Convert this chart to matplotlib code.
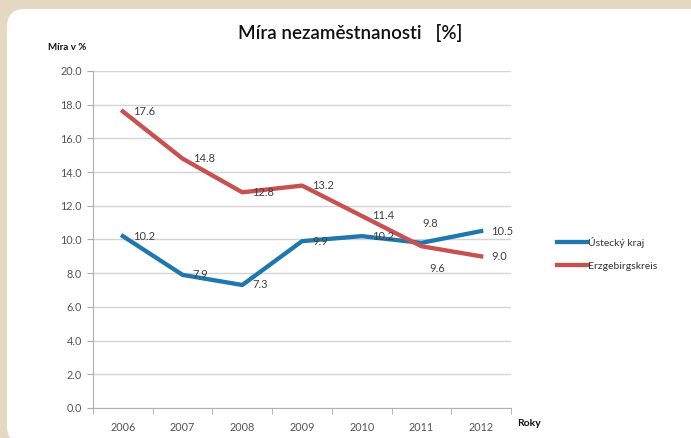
import numpy as np
import matplotlib
matplotlib.use("Agg")
import matplotlib.pyplot as plt
from matplotlib.patches import FancyBboxPatch
from matplotlib.transforms import IdentityTransform

# data
years = ["2006", "2007", "2008", "2009", "2010", "2011", "2012"]
ustecky = [10.2, 7.9, 7.3, 9.9, 10.2, 9.8, 10.5]
erzgebirge = [17.6, 14.8, 12.8, 13.2, 11.4, 9.6, 9.0]
series_names = ["Ústecký kraj", "Erzgebirgskreis"]
yticks = np.arange(0, 21, 2)

plt.rcParams['font.family'] = ['Lato', 'DejaVu Sans']

fig = plt.figure(figsize=(6.91, 4.38), dpi=100)
fig.patch.set_facecolor("#e6d9c4")

# white rounded card behind everything
card = FancyBboxPatch((7, -6), 760, 438 - 9 + 6,
                      boxstyle="round,pad=0,rounding_size=18",
                      transform=IdentityTransform(), facecolor="white",
                      edgecolor="none", zorder=-5)
fig.patches.append(card)

ax = fig.add_axes([93 / 691, 1 - 408 / 438, (511 - 93) / 691, (408 - 71) / 438])
ax.set_facecolor("none")
ax.set_zorder(1)

x = np.arange(len(years))
blue = "#1f78ad"
red = "#c8504f"
ax.plot(x, ustecky, color=blue, lw=3.1, solid_joinstyle="round", label=series_names[0], zorder=3)
ax.plot(x, erzgebirge, color=red, lw=3.1, solid_joinstyle="round", label=series_names[1], zorder=3)

# value labels
def label(xi, val, dx=10, dy=0):
    ax.annotate(f"{val:.1f}", (xi, val), xytext=(dx, dy), textcoords="offset pixels",
                ha="left", va="center", fontsize=8, color="#404040", zorder=4)

for i, v in enumerate(ustecky):
    if i == 5:
        label(i, v, 1, 19)
    else:
        label(i, v)
for i, v in enumerate(erzgebirge):
    if i == 5:
        label(i, v, 8, -22)
    else:
        label(i, v)

ax.set_xlim(-0.5, len(years) - 0.5)
ax.set_ylim(0, 20)
ax.set_yticks(yticks)
ax.set_yticklabels([f"{t:.1f}" for t in yticks])
ax.set_xticks(x)
ax.set_xticklabels(years)
ax.set_xticks(np.arange(-0.5, len(years), 1), minor=True)
ax.tick_params(axis="x", which="major", length=0, pad=10, labelsize=7.8, labelcolor="#555555")
ax.tick_params(axis="x", which="minor", length=4, color="#aaaaaa", direction="out")
ax.tick_params(axis="y", length=4, color="#aaaaaa", labelsize=7.8, labelcolor="#555555", pad=4)
ax.grid(axis="y", color="#d4d4d4", lw=1)
ax.set_axisbelow(True)
for s in ["top", "right"]:
    ax.spines[s].set_visible(False)
for s in ["left", "bottom"]:
    ax.spines[s].set_color("#b0b0b0")

fig.text(350 / 691, 1 - 33 / 438, "Míra nezaměstnanosti   [%]", ha="center", va="center",
         fontsize=13.5, fontweight="semibold", color="#111111")
fig.text(48 / 691, 1 - 47 / 438, "Míra v %", ha="left", va="center", fontsize=7,
         fontweight="bold", color="#111111")
fig.text(517 / 691, 1 - 424 / 438, "Roky", ha="left", va="center", fontsize=7.5,
         fontweight="bold", color="#111111")

fig.legend(loc="center left", bbox_to_anchor=(548 / 691, 1 - 254 / 438), frameon=False,
           fontsize=7.5, handlelength=2.8, handletextpad=0.1, labelspacing=1.3,
           labelcolor="#333333")

fig.savefig("out.png", dpi=100, facecolor=fig.get_facecolor())
